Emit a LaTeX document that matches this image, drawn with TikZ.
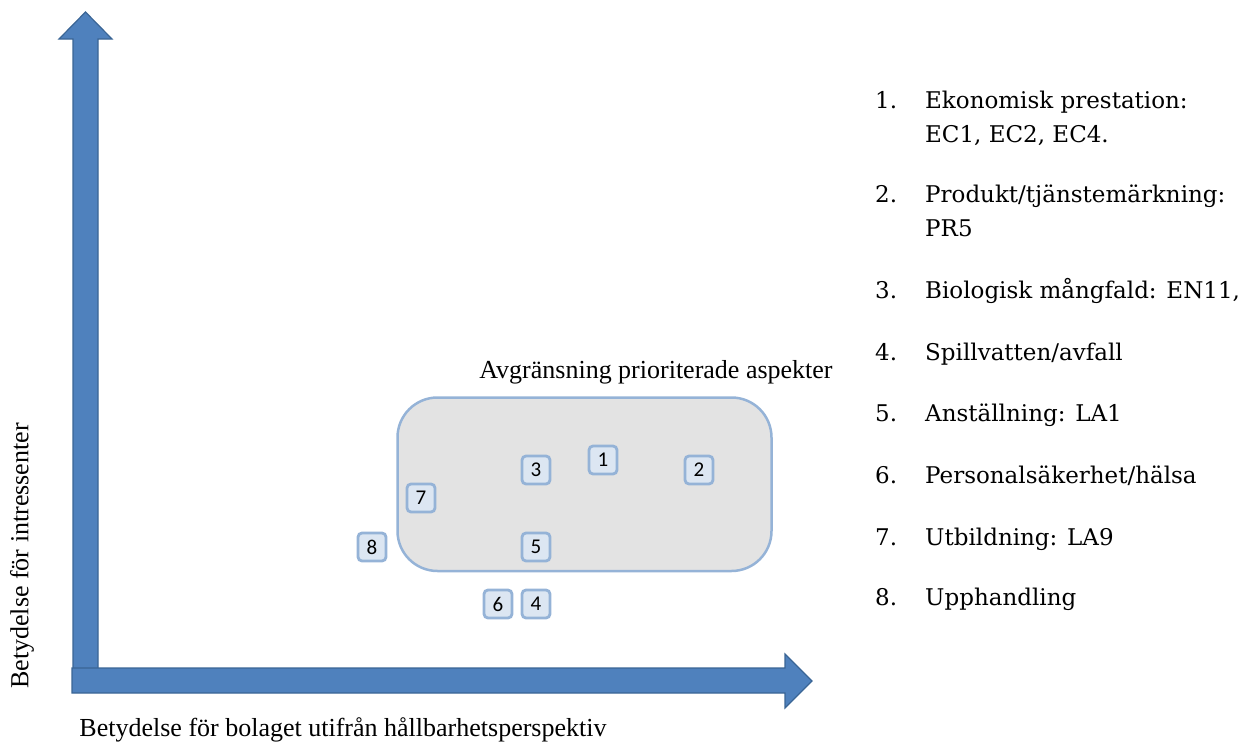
\documentclass[tikz,border=0pt]{standalone}
\usepackage{fontspec}
\setmainfont{Liberation Serif}
\newfontfamily\listfont{DejaVu Serif}
\newfontfamily\boxfont{Carlito}
\definecolor{axisfill}{HTML}{4F81BD}
\definecolor{axisedge}{HTML}{3A6595}
\definecolor{regionfill}{HTML}{E3E3E3}
\definecolor{boxedge}{HTML}{95B3D7}
\definecolor{boxfill}{HTML}{DCE6F2}
\tikzset{
  axisarrow/.style={fill=axisfill,draw=axisedge,line width=1.2pt,line join=miter},
  region/.style={draw=boxedge,fill=regionfill,line width=2.5pt,rounded corners=40pt},
  aspect/.style={draw=boxedge,fill=boxfill,line width=2.8pt,rounded corners=4pt,minimum width=28pt,minimum height=28pt,inner sep=0pt,font=\boxfont\fontsize{21}{24}\selectfont},
  listnum/.style={anchor=base west,inner sep=0pt,font=\listfont\fontsize{23}{28}\selectfont},
  listtxt/.style={anchor=base west,inner sep=0pt,font=\listfont\fontsize{23}{28}\selectfont},
  axlabel/.style={inner sep=0pt,font=\fontsize{26}{30}\selectfont}
}
\begin{document}
\begin{tikzpicture}[x=1pt,y=-1pt]
\useasboundingbox (0,0) rectangle (1243,744);
% vertical axis arrow
\draw[axisarrow] (73,690) -- (73,39) -- (59,39) -- (85.5,12) -- (112,39) -- (98,39) -- (98,690) -- cycle;
% horizontal axis arrow
\draw[axisarrow] (72,668) -- (785,668) -- (785,654) -- (812,681) -- (785,708) -- (785,693) -- (72,693) -- cycle;
% region
\draw[region] (397.5,397.5) rectangle (771.5,571);
\node[axlabel] (regionlabel) at (656,372) {Avgränsning prioriterade aspekter};
% aspect boxes
\node[aspect] (a1) at (603,460) {1};
\node[aspect] (a2) at (699,470) {2};
\node[aspect] (a3) at (536,470) {3};
\node[aspect] (a7) at (421,498) {7};
\node[aspect] (a8) at (372,547) {8};
\node[aspect] (a5) at (536,547) {5};
\node[aspect] (a6) at (498,604) {6};
\node[aspect] (a4) at (536,604) {4};
% axis labels
\node[axlabel] (xlabel) at (343,730) {Betydelse för bolaget utifrån hållbarhetsperspektiv};
\node[axlabel,rotate=90] (ylabel) at (22,556) {Betydelse för intressenter};
% list
\node[listnum] (n1) at (875,108) {1.};
\node[listtxt] (t1) at (925,108) {Ekonomisk prestation:};
\node[listtxt] (t1b) at (925,142) {EC1, EC2, EC4.};
\node[listnum] (n2) at (875,202) {2.};
\node[listtxt] (t2) at (925,202) {Produkt/tjänstemärkning:};
\node[listtxt] (t2b) at (925,236) {PR5};
\node[listnum] (n3) at (875,298) {3.};
\node[listtxt] (t3) at (925,298) {Biologisk mångfald: EN11,};
\node[listnum] (n4) at (875,360) {4.};
\node[listtxt] (t4) at (925,360) {Spillvatten/avfall};
\node[listnum] (n5) at (875,421) {5.};
\node[listtxt] (t5) at (925,421) {Anställning: LA1};
\node[listnum] (n6) at (875,483) {6.};
\node[listtxt] (t6) at (925,483) {Personalsäkerhet/hälsa};
\node[listnum] (n7) at (875,545) {7.};
\node[listtxt] (t7) at (925,545) {Utbildning: LA9};
\node[listnum] (n8) at (875,605) {8.};
\node[listtxt] (t8) at (925,605) {Upphandling};
\end{tikzpicture}
\end{document}
